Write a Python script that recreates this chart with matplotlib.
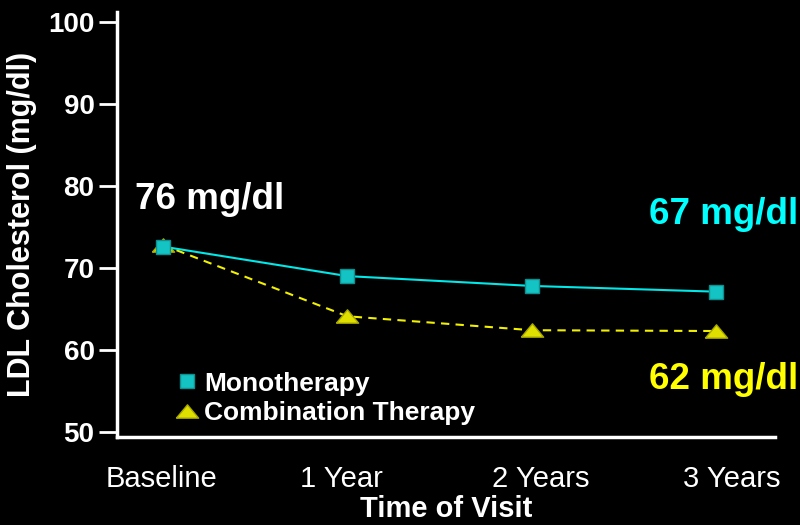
import matplotlib.pyplot as plt
from matplotlib.transforms import ScaledTranslation

visits = ['Baseline', '1 Year', '2 Years', '3 Years']
mono = [72.6, 69.0, 67.8, 67.1]      # Monotherapy LDL (mg/dl)
combo = [72.8, 64.1, 62.4, 62.3]     # Combination therapy LDL (mg/dl)
yticks = [50, 60, 70, 80, 90, 100]
label_shift = [-1, -6, 9, 16]        # horizontal nudge of the visit labels, pixels

plt.rcParams['font.family'] = ['Liberation Sans', 'DejaVu Sans']

fig = plt.figure(figsize=(8, 5.25), dpi=100, facecolor='black')
ax = fig.add_axes([0.146, 0.168, 0.823, 0.809], facecolor='black')

# wide, flat triangle for the combination series
tri = [(-1, -0.6), (1, -0.6), (0, 0.6), (-1, -0.6)]

x = list(range(len(visits)))
ax.plot(x, mono, color='#00e8e8', lw=1.5, marker='s', ms=10,
        mfc='#14c4c4', mec='#0c9090', mew=1, label='Monotherapy', zorder=3)
ax.plot(x, combo, color='#f0f000', lw=1.5, ls=(0, (4, 3)), marker=tri, ms=16,
        mfc='#e0e000', mec='#a8a800', mew=1, label='Combination Therapy', zorder=2)

ax.set_xlim(-0.25, 3.32)
ax.set_ylim(49.4, 101.2)
ax.set_yticks(yticks)
ax.set_yticklabels([str(t) for t in yticks], fontsize=20, fontweight='bold', color='white')
ax.set_xticks(x)
ax.set_xticklabels(visits, fontsize=21, color='white')
ax.tick_params(axis='y', direction='out', length=13, width=2, color='white', pad=3)
ax.tick_params(axis='x', length=0, pad=20)

for lbl, dx in zip(ax.get_xticklabels(), label_shift):
    lbl.set_transform(lbl.get_transform() + ScaledTranslation(dx / 100, 0, fig.dpi_scale_trans))

for s in ['top', 'right']:
    ax.spines[s].set_visible(False)
for s in ['left', 'bottom']:
    ax.spines[s].set_color('white')
    ax.spines[s].set_linewidth(2.5)

ax.set_xlabel('Time of Visit', fontsize=21, fontweight='bold', color='white', labelpad=2)
ax.set_ylabel('LDL Cholesterol (mg/dl)', fontsize=22, fontweight='bold', color='white', labelpad=8)

# value callouts
ax.text(0.255, 78.3, '76 mg/dl', fontsize=26.5, fontweight='bold', color='white', ha='center', va='center')
ax.text(3.04, 76.5, '67 mg/dl', fontsize=26.5, fontweight='bold', color='#00ffff', ha='center', va='center')
ax.text(3.04, 56.4, '62 mg/dl', fontsize=26.5, fontweight='bold', color='#ffff00', ha='center', va='center')

leg = ax.legend(loc='lower left', bbox_to_anchor=(0.092, 0.028), frameon=False,
                borderpad=0, borderaxespad=0,
                handlelength=0.7, handletextpad=0.3, labelspacing=0.2,
                prop={'size': 19, 'weight': 'bold'})
for line in leg.get_lines():
    line.set_linestyle('none')
for t in leg.get_texts():
    t.set_color('white')

fig.savefig('out.png', dpi=100, facecolor='black')
